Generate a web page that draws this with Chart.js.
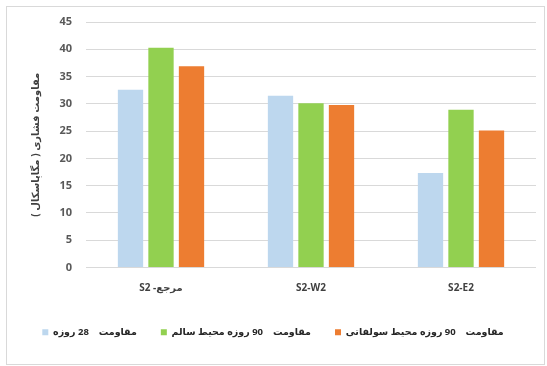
<!DOCTYPE html>
<html>
<head>
<meta charset="utf-8">
<script src="https://cdn.jsdelivr.net/npm/chart.js@4.4.1/dist/chart.umd.min.js"></script>
<style>
  html, body { margin: 0; padding: 0; background: #ffffff; }
  #wrap { width: 547px; height: 366px; position: relative; }
</style>
</head>
<body>
<div id="wrap"><canvas id="chart" width="547" height="366"></canvas></div>
<script>
// Compressive strength of S2 mixes (MPa)
const categories = ['S2 -مرجع', 'S2-W2', 'S2-E2'];
const seriesNames = [
  'مقاومت    28 روزه',
  'مقاومت    90 روزه محیط سالم',
  'مقاومت    90 روزه محیط سولفاتی'
];
const strength28 = [32.6, 31.5, 17.3];
const strength90Normal = [40.3, 30.1, 28.9];
const strength90Sulfate = [36.9, 29.8, 25.1];
const yTickValues = [0, 5, 10, 15, 20, 25, 30, 35, 40, 45];
const yTitle = 'مقاومت فشاری ( مگاپاسکال )\u200F';

const seriesColors = ['#BDD7EE', '#92D050', '#ED7D31'];
const seriesValues = [strength28, strength90Normal, strength90Sulfate];

const fontFamily = '"Open Sans", "DejaVu Sans", sans-serif';

// Light frame around the whole figure
const framePlugin = {
  id: 'frame',
  beforeDraw(chart) {
    const ctx = chart.ctx;
    ctx.save();
    ctx.fillStyle = '#ffffff';
    ctx.fillRect(0, 0, chart.width, chart.height);
    ctx.strokeStyle = '#d9d9d9';
    ctx.lineWidth = 1;
    ctx.strokeRect(6.5, 6.5, 538, 358);
    ctx.restore();
  }
};

new Chart(document.getElementById('chart'), {
  type: 'bar',
  data: {
    labels: categories,
    datasets: seriesNames.map((name, i) => ({
      label: name,
      data: seriesValues[i],
      backgroundColor: seriesColors[i],
      borderWidth: 0,
      categoryPercentage: 0.61,
      barPercentage: 0.83
    }))
  },
  options: {
    responsive: false,
    animation: false,
    devicePixelRatio: 1,
    layout: { padding: { top: 22, left: 10, right: 11, bottom: 19 } },
    plugins: {
      legend: {
        position: 'bottom',
        labels: {
          boxWidth: 6,
          boxHeight: 6,
          padding: 24,
          color: '#262626',
          font: { family: fontFamily, size: 9.5, weight: 'bold' }
        }
      },
      tooltip: { enabled: false }
    },
    scales: {
      x: {
        grid: { display: false, drawTicks: false },
        border: { display: false },
        ticks: {
          color: '#404040',
          padding: 15,
          font: { family: fontFamily, size: 10, weight: 'bold' }
        },
        afterFit(scale) { scale.height = 36; }
      },
      y: {
        min: 0,
        max: 45,
        afterBuildTicks(scale) { scale.ticks = yTickValues.map(v => ({ value: v })); },
        grid: { color: '#d9d9d9', drawTicks: false, lineWidth: 1 },
        border: { display: false },
        ticks: {
          color: '#595959',
          padding: 14,
          font: { family: fontFamily, size: 11, weight: 'bold' }
        },
        title: {
          display: true,
          text: yTitle,
          color: '#404040',
          padding: { top: 20, bottom: 0 },
          font: { family: fontFamily, size: 10, weight: 'bold' }
        },
        afterFit(scale) { scale.width = 76; }
      }
    }
  },
  plugins: [framePlugin]
});
</script>
</body>
</html>
